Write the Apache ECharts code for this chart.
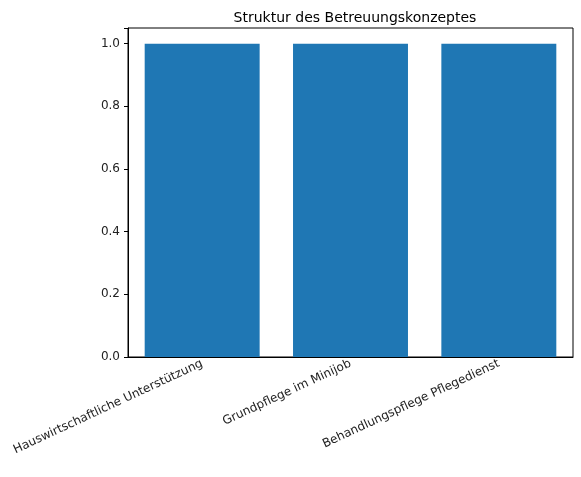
<!DOCTYPE html>
<html><head><meta charset="utf-8">
<script src="https://cdn.jsdelivr.net/npm/echarts@6/dist/echarts.min.js"></script>
<style>html,body{margin:0;padding:0;background:#fff}#c{width:581px;height:477px}</style>
</head><body><div id="c"></div>
<script>
const categories = ["Hauswirtschaftliche Unterstützung", "Grundpflege im Minijob", "Behandlungspflege Pflegedienst"];
const values = [1, 1, 1];
const yTicks = [0, 0.2, 0.4, 0.6, 0.8, 1.0];
const chart = echarts.init(document.getElementById('c'));
const font = "DejaVu Sans";
chart.setOption({
  animation: false,
  title: {text: "Struktur des Betreuungskonzeptes", left: 350, top: 6, textAlign: 'center',
    textStyle: {fontFamily: font, fontSize: 14, fontWeight: 'normal', color: '#000'}},
  grid: {left: 128, right: 8, top: 28, bottom: 120, show: true, borderColor: '#000', borderWidth: 1},
  xAxis: {type: 'category', data: categories, boundaryGap: true,
    axisLine: {lineStyle: {color: '#000'}},
    axisTick: {alignWithLabel: true, length: 4, lineStyle: {color: '#000'}},
    axisLabel: {rotate: 25, fontFamily: font, fontSize: 12, color: '#222', margin: 6, interval: 0}},
  yAxis: {type: 'value', min: 0, max: 1.05, interval: 0.2,
    splitLine: {show: false},
    axisLine: {show: true, lineStyle: {color: '#000'}},
    axisTick: {show: true, length: 4, lineStyle: {color: '#000'}},
    axisLabel: {fontFamily: font, fontSize: 12, color: '#222',
      formatter: v => yTicks.some(t => Math.abs(t - v) < 1e-9) ? v.toFixed(1) : ''}},
  series: [{type: 'bar', data: values, barCategoryGap: '22.5%', itemStyle: {color: '#1f77b4'}}]
});
</script></body></html>
